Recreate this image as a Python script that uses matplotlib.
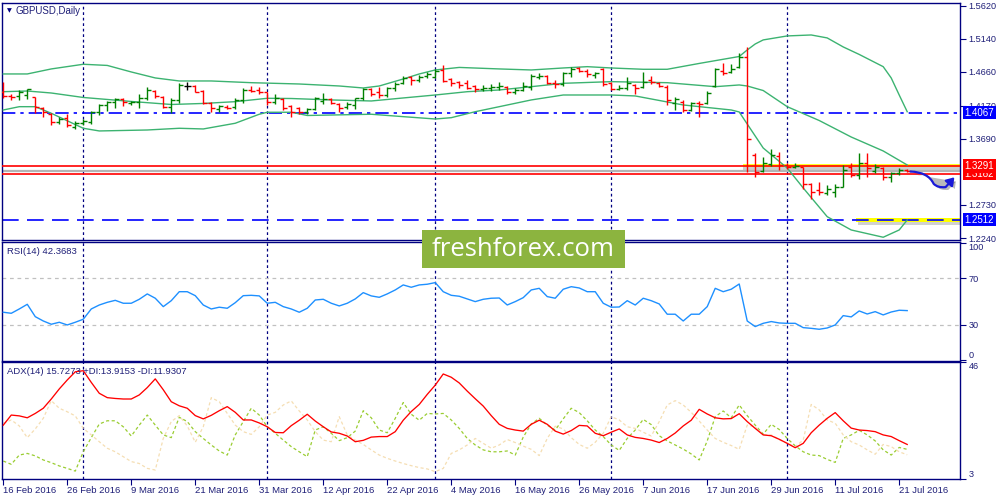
import matplotlib
matplotlib.use("Agg")
import matplotlib.pyplot as plt
from matplotlib.collections import LineCollection
from matplotlib.patches import Rectangle, FancyArrowPatch
from matplotlib.path import Path
from matplotlib.transforms import blended_transform_factory
import matplotlib.patheffects as pe

# ============================================================
# DATA
# ============================================================

DATE_TICKS = [0, 8, 16, 24, 32, 40, 48, 56, 64, 72, 80, 88, 96, 104, 112]
DATE_LABELS = ["16 Feb 2016", "26 Feb 2016", "9 Mar 2016", "21 Mar 2016",
               "31 Mar 2016", "12 Apr 2016", "22 Apr 2016", "4 May 2016",
               "16 May 2016", "26 May 2016", "7 Jun 2016", "17 Jun 2016",
               "29 Jun 2016", "11 Jul 2016", "21 Jul 2016"]
GRID_BARS = [10, 33, 54, 76, 98]

OPEN = [1.4373, 1.4315, 1.4315, 1.4325, 1.4295, 1.4141, 1.4045, 1.3937, 1.3986, 1.3864,
        1.3914, 1.3937, 1.4082, 1.4180, 1.4219, 1.4267, 1.4213, 1.4228, 1.4286, 1.4383,
        1.4300, 1.4155, 1.4253, 1.4456, 1.4460, 1.4383, 1.4213, 1.4117, 1.4155, 1.4146,
        1.4253, 1.4398, 1.4398, 1.4364, 1.4228, 1.4267, 1.4165, 1.4132, 1.4074, 1.4122,
        1.4238, 1.4267, 1.4190, 1.4155, 1.4180, 1.4277, 1.4412, 1.4373, 1.4325, 1.4431,
        1.4495, 1.4591, 1.4543, 1.4606, 1.4591, 1.4689, 1.4554, 1.4510, 1.4495, 1.4460,
        1.4408, 1.4423, 1.4437, 1.4446, 1.4373, 1.4398, 1.4446, 1.4591, 1.4606, 1.4495,
        1.4481, 1.4641, 1.4714, 1.4674, 1.4616, 1.4703, 1.4495, 1.4408, 1.4423, 1.4471,
        1.4437, 1.4543, 1.4504, 1.4446, 1.4204, 1.4228, 1.4107, 1.4213, 1.4204, 1.4456,
        1.4674, 1.4664, 1.4737, 1.4882, 1.3453, 1.3224, 1.3322, 1.3438, 1.3303, 1.3283,
        1.3274, 1.3026, 1.2943, 1.2904, 1.2919, 1.2991, 1.3274, 1.3162, 1.3341, 1.3220,
        1.3259, 1.3137, 1.3195, 1.3234]
HIGH = [1.4510, 1.4340, 1.4398, 1.4417, 1.4300, 1.4155, 1.4059, 1.4010, 1.4045, 1.3947,
        1.3972, 1.4093, 1.4190, 1.4238, 1.4277, 1.4277, 1.4242, 1.4335, 1.4442, 1.4398,
        1.4315, 1.4286, 1.4495, 1.4519, 1.4471, 1.4398, 1.4228, 1.4180, 1.4180, 1.4286,
        1.4423, 1.4460, 1.4442, 1.4373, 1.4335, 1.4277, 1.4180, 1.4155, 1.4141, 1.4300,
        1.4350, 1.4286, 1.4204, 1.4228, 1.4286, 1.4423, 1.4423, 1.4442, 1.4446, 1.4510,
        1.4606, 1.4606, 1.4616, 1.4655, 1.4699, 1.4762, 1.4568, 1.4529, 1.4543, 1.4471,
        1.4471, 1.4481, 1.4519, 1.4460, 1.4423, 1.4519, 1.4626, 1.4641, 1.4616, 1.4543,
        1.4655, 1.4737, 1.4737, 1.4703, 1.4664, 1.4722, 1.4519, 1.4471, 1.4583, 1.4485,
        1.4655, 1.4602, 1.4519, 1.4471, 1.4292, 1.4253, 1.4228, 1.4242, 1.4388, 1.4714,
        1.4795, 1.4776, 1.4940, 1.5028, 1.3477, 1.3419, 1.3540, 1.3492, 1.3333, 1.3341,
        1.3283, 1.3041, 1.3055, 1.3016, 1.3026, 1.3307, 1.3341, 1.3477, 1.3477, 1.3322,
        1.3283, 1.3210, 1.3268, 1.3245]
LOW = [1.4286, 1.4253, 1.4253, 1.4263, 1.4059, 1.4005, 1.3889, 1.3903, 1.3860, 1.3831,
       1.3889, 1.3903, 1.4034, 1.4093, 1.4132, 1.4170, 1.4180, 1.4132, 1.4253, 1.4286,
       1.4132, 1.4059, 1.4204, 1.4398, 1.4364, 1.4190, 1.4074, 1.4074, 1.4117, 1.4122,
       1.4204, 1.4364, 1.4335, 1.4180, 1.4190, 1.4107, 1.4010, 1.4045, 1.4045, 1.4107,
       1.4190, 1.4190, 1.4074, 1.4122, 1.4122, 1.4253, 1.4315, 1.4286, 1.4300, 1.4383,
       1.4481, 1.4471, 1.4519, 1.4568, 1.4577, 1.4519, 1.4460, 1.4431, 1.4408, 1.4364,
       1.4383, 1.4383, 1.4398, 1.4335, 1.4335, 1.4383, 1.4398, 1.4558, 1.4481, 1.4431,
       1.4460, 1.4591, 1.4655, 1.4591, 1.4577, 1.4460, 1.4398, 1.4398, 1.4398, 1.4340,
       1.4423, 1.4485, 1.4437, 1.4180, 1.4107, 1.4082, 1.4093, 1.4010, 1.4194, 1.4437,
       1.4616, 1.4641, 1.4714, 1.3210, 1.3128, 1.3201, 1.3293, 1.3234, 1.3245, 1.3259,
       1.2954, 1.2808, 1.2871, 1.2871, 1.2846, 1.2983, 1.3137, 1.3099, 1.3137, 1.3195,
       1.3089, 1.3064, 1.3162, 1.3205]
CLOSE = [1.4315, 1.4300, 1.4373, 1.4408, 1.4155, 1.4082, 1.3937, 1.3976, 1.3889, 1.3914,
         1.3947, 1.4074, 1.4180, 1.4219, 1.4263, 1.4219, 1.4223, 1.4286, 1.4402, 1.4315,
         1.4155, 1.4253, 1.4471, 1.4456, 1.4373, 1.4204, 1.4132, 1.4165, 1.4132, 1.4253,
         1.4398, 1.4383, 1.4373, 1.4228, 1.4286, 1.4141, 1.4074, 1.4074, 1.4122, 1.4277,
         1.4267, 1.4204, 1.4141, 1.4190, 1.4277, 1.4412, 1.4335, 1.4325, 1.4431, 1.4481,
         1.4577, 1.4543, 1.4591, 1.4626, 1.4674, 1.4529, 1.4495, 1.4471, 1.4431, 1.4408,
         1.4431, 1.4442, 1.4452, 1.4373, 1.4398, 1.4460, 1.4606, 1.4606, 1.4495, 1.4481,
         1.4641, 1.4703, 1.4674, 1.4626, 1.4641, 1.4481, 1.4408, 1.4431, 1.4504, 1.4423,
         1.4519, 1.4519, 1.4456, 1.4253, 1.4263, 1.4107, 1.4204, 1.4194, 1.4350, 1.4699,
         1.4641, 1.4699, 1.4882, 1.3681, 1.3210, 1.3333, 1.3453, 1.3307, 1.3283, 1.3297,
         1.3031, 1.2919, 1.2910, 1.2954, 1.2991, 1.3234, 1.3162, 1.3333, 1.3268, 1.3274,
         1.3128, 1.3186, 1.3234, 1.3220]

# Bollinger bands, read at selected bars
BB_UP_IDX = [0, 3, 6, 10, 13, 16, 19, 22, 26, 31, 37, 42, 45, 47, 50, 52, 54, 57, 62,
             66, 70, 73, 76, 80, 83, 87, 92, 93, 94, 95, 98, 101, 103, 105, 107, 110,
             111, 112, 113]
BB_UP = [1.4631, 1.4631, 1.4704, 1.4772, 1.4755, 1.4660, 1.4573, 1.4529, 1.4529, 1.4504,
         1.4485, 1.4456, 1.4427, 1.4456, 1.4558, 1.4631, 1.4689, 1.4726, 1.4704, 1.4689,
         1.4718, 1.4737, 1.4718, 1.4699, 1.4699, 1.4784, 1.4885, 1.4980, 1.5067, 1.5126,
         1.5184, 1.5198, 1.5155, 1.5024, 1.4915, 1.4737, 1.4573, 1.4325, 1.4082]
BB_MID_IDX = [0, 3, 6, 10, 16, 21, 25, 29, 33, 36, 41, 46, 50, 54, 58, 62, 66, 70, 76,
              83, 89, 92, 93, 95, 98, 102, 106, 110, 113]
BB_MID = [1.4373, 1.4383, 1.4354, 1.4289, 1.4231, 1.4187, 1.4202, 1.4228, 1.4277, 1.4274,
          1.4253, 1.4238, 1.4282, 1.4325, 1.4373, 1.4398, 1.4446, 1.4495, 1.4519, 1.4504,
          1.4446, 1.4471, 1.4456, 1.4390, 1.4155, 1.3954, 1.3714, 1.3511, 1.3307]
BB_LO_IDX = [0, 2, 4, 6, 10, 12, 18, 22, 25, 29, 32, 33, 36, 38, 46, 50, 54, 56, 59, 62,
             66, 70, 76, 79, 85, 91, 92, 93, 95, 98, 100, 103, 106, 110, 112, 113]
BB_LO = [1.4107, 1.4155, 1.4155, 1.4059, 1.3841, 1.3802, 1.3816, 1.3841, 1.3831, 1.3914,
         1.4045, 1.4074, 1.4074, 1.4027, 1.4045, 1.4010, 1.3976, 1.3995, 1.4082, 1.4155,
         1.4253, 1.4325, 1.4325, 1.4311, 1.4180, 1.4107, 1.4078, 1.3903, 1.3554, 1.3263,
         1.2973, 1.2555, 1.2362, 1.2256, 1.2362, 1.2507]

RSI = [40.9, 40.0, 43.7, 47.7, 37.1, 33.4, 30.6, 32.3, 30.0, 32.3,
       34.9, 43.7, 47.1, 49.4, 51.1, 48.6, 48.6, 52.0, 56.6, 52.9,
       45.7, 50.8, 58.5, 58.5, 55.1, 47.1, 43.7, 45.2, 44.3, 49.1,
       55.1, 55.4, 54.9, 48.6, 49.4, 45.7, 43.7, 40.9, 44.3, 51.4,
       52.0, 48.6, 46.3, 48.6, 52.3, 57.7, 54.9, 53.7, 56.6, 60.0,
       64.3, 62.3, 64.3, 64.9, 66.3, 58.5, 55.4, 54.6, 52.3, 50.0,
       52.0, 52.9, 53.1, 47.1, 50.0, 53.4, 60.0, 61.4, 54.3, 52.9,
       60.6, 62.8, 61.7, 58.5, 58.5, 48.6, 45.2, 45.4, 50.8, 47.1,
       52.9, 50.8, 48.0, 39.2, 39.2, 33.4, 39.2, 39.2, 45.7, 61.4,
       58.5, 60.6, 65.1, 33.4, 28.6, 31.4, 32.9, 31.7, 31.4, 31.4,
       27.7, 27.1, 26.3, 27.4, 30.0, 38.0, 36.9, 42.0, 39.4, 41.4,
       38.6, 41.1, 42.6, 42.3]

ADX = [22.8, 26.5, 26.2, 25.5, 27.1, 29.0, 32.4, 36.1, 39.4, 42.4,
       42.8, 38.5, 34.5, 32.9, 32.6, 32.4, 32.4, 33.9, 36.6, 39.8,
       35.8, 31.4, 29.9, 29.0, 26.3, 25.1, 26.4, 28.1, 29.6, 27.5,
       24.7, 24.7, 23.6, 22.2, 20.1, 20.0, 22.6, 24.6, 26.8, 24.3,
       22.2, 20.3, 19.8, 18.8, 16.7, 17.2, 18.4, 18.6, 18.6, 20.4,
       24.6, 27.8, 30.4, 34.1, 37.5, 41.6, 40.4, 38.3, 35.3, 32.5,
       29.8, 26.3, 23.1, 21.6, 21.0, 20.6, 23.1, 24.6, 23.1, 20.6,
       19.5, 20.8, 22.7, 22.5, 19.8, 18.9, 20.2, 21.4, 19.2, 18.3,
       17.9, 17.3, 16.4, 17.9, 19.9, 22.5, 24.6, 28.6, 26.9, 25.5,
       25.1, 25.2, 27.0, 24.1, 21.6, 19.2, 18.9, 17.6, 16.1, 14.5,
       16.1, 20.0, 22.8, 25.3, 27.4, 24.4, 21.7, 21.0, 20.8, 20.4,
       19.2, 18.6, 17.1, 15.7]
PLUS_DI = [9.6, 8.4, 11.8, 12.4, 11.5, 10.0, 9.0, 7.8, 6.9, 5.9,
           13.0, 18.2, 23.2, 24.4, 24.4, 22.2, 18.8, 22.8, 26.5, 22.8,
           19.2, 18.2, 25.7, 24.1, 20.4, 17.9, 15.5, 13.3, 11.8, 19.2,
           24.1, 29.0, 26.5, 22.2, 19.8, 17.3, 14.9, 13.0, 11.2, 21.0,
           22.2, 19.8, 17.1, 18.2, 20.6, 28.1, 25.5, 21.0, 20.0, 25.3,
           31.1, 26.8, 24.6, 27.1, 26.9, 27.1, 24.7, 21.6, 17.9, 15.5,
           13.7, 13.0, 13.0, 13.3, 11.8, 18.4, 23.2, 25.3, 22.8, 21.0,
           25.1, 29.0, 27.4, 24.4, 21.0, 18.6, 15.5, 13.5, 17.9, 21.0,
           24.9, 23.0, 18.9, 17.0, 15.5, 14.0, 12.2, 10.0, 17.0, 25.9,
           28.0, 25.5, 30.2, 26.3, 22.8, 19.5, 23.1, 21.2, 17.9, 15.2,
           13.0, 11.8, 11.6, 10.2, 9.1, 17.9, 19.2, 20.9, 19.2, 17.0,
           13.7, 11.8, 14.6, 13.9]
MINUS_DI = [23.5, 24.7, 22.5, 18.2, 21.4, 25.3, 31.8, 29.0, 27.7, 26.2,
            21.6, 19.2, 16.7, 14.3, 13.0, 11.2, 9.4, 8.7, 6.9, 6.3,
            17.9, 24.1, 26.3, 22.5, 16.5, 22.2, 32.9, 31.4, 27.1, 22.8,
            20.4, 19.4, 22.2, 26.5, 27.5, 30.2, 31.7, 28.0, 24.7, 20.4,
            17.3, 16.7, 25.9, 19.2, 17.3, 15.7, 13.7, 11.8, 10.6, 9.6,
            8.7, 7.9, 7.2, 6.7, 5.7, 6.9, 12.4, 13.7, 15.5, 17.9,
            16.1, 14.3, 15.5, 17.5, 16.4, 15.1, 13.9, 11.6, 17.9, 22.4,
            21.4, 18.2, 15.7, 14.3, 16.5, 19.8, 25.9, 24.7, 22.2, 21.6,
            20.2, 18.8, 24.1, 30.2, 31.8, 30.2, 27.5, 24.3, 21.0, 17.9,
            16.5, 15.3, 13.9, 22.8, 22.2, 19.2, 19.2, 17.5, 16.1, 14.9,
            17.3, 30.4, 28.4, 24.7, 23.5, 19.2, 16.7, 15.5, 13.7, 12.1,
            15.7, 14.9, 13.0, 11.9]

PRICE_TICKS = [1.5620, 1.5140, 1.4660, 1.4170, 1.3690, 1.2730, 1.2240]
LEVEL_HIGH = 1.4067
LEVEL_RES = 1.3291
LEVEL_SUP = 1.3182
LEVEL_BID = 1.3214
LEVEL_LOW = 1.2512

# ============================================================
# STYLE
# ============================================================

plt.rcParams["font.family"] = ["Liberation Sans", "DejaVu Sans"]

NAVY = "#000080"
TEXT = "#1f1f78"
W, H = 1000, 500
XLIM = (-0.16, 119.6)

fig = plt.figure(figsize=(10, 5), dpi=100)
fig.patch.set_facecolor("white")


def px_axes(left, top, right, bottom):
    return fig.add_axes([left / W, 1 - bottom / H,
                         (right - left) / W, (bottom - top) / H])


def style_panel(ax):
    for sp in ax.spines.values():
        sp.set_color(NAVY)
        sp.set_linewidth(1.0)
    ax.set_xlim(*XLIM)
    ax.yaxis.tick_right()
    ax.tick_params(axis="y", direction="out", length=4, width=0.8,
                   color=NAVY, labelsize=6.6, labelcolor=TEXT, pad=2)
    ax.tick_params(axis="x", bottom=False, labelbottom=False)
    for b in GRID_BARS:
        ax.axvline(b, color=NAVY, lw=0.9, ls=(0, (2.2, 2.2)), zorder=1)


ax_p = px_axes(2, 3, 960, 240)
ax_r = px_axes(2, 242, 960, 361)
ax_a = px_axes(2, 362, 960, 479)

for a in (ax_p, ax_r, ax_a):
    style_panel(a)

# ============================================================
# PRICE PANEL
# ============================================================

ax_p.set_ylim(1.2216, 1.5663)
ax_p.set_yticks(PRICE_TICKS)
ax_p.set_yticklabels([f"{v:.4f}" for v in PRICE_TICKS])

n = len(CLOSE)
segs, cols = [], []
for i in range(n):
    if CLOSE[i] > OPEN[i]:
        c = "#008000"
    elif CLOSE[i] < OPEN[i]:
        c = "#ff0000"
    else:
        c = "#000000"
    segs.append([(i, LOW[i]), (i, HIGH[i])])
    segs.append([(i - 0.42, OPEN[i]), (i, OPEN[i])])
    segs.append([(i, CLOSE[i]), (i + 0.42, CLOSE[i])])
    cols += [c, c, c]
ax_p.add_collection(LineCollection(segs, colors=cols, linewidths=1.0, zorder=4))

band_col = "#3cb371"
ax_p.plot(BB_UP_IDX, BB_UP, color=band_col, lw=1.0, zorder=3)
ax_p.plot(BB_MID_IDX, BB_MID, color=band_col, lw=1.0, zorder=3)
ax_p.plot(BB_LO_IDX, BB_LO, color=band_col, lw=1.0, zorder=3)

# highlighter marks
ax_p.add_patch(Rectangle((92.5, LEVEL_RES - 0.0020), XLIM[1] - 92.5, 0.0048,
                         fc="#ffff00", ec="none", alpha=0.85, zorder=2))
ax_p.add_patch(Rectangle((92.5, LEVEL_RES - 0.0068), XLIM[1] - 92.5, 0.0048,
                         fc="#9a9a9a", ec="none", alpha=0.5, zorder=2))
ax_p.add_patch(Rectangle((106.6, LEVEL_LOW - 0.0040), XLIM[1] - 106.6, 0.0065,
                         fc="#ffff00", ec="none", zorder=2))
ax_p.add_patch(Rectangle((106.9, LEVEL_LOW - 0.0075), XLIM[1] - 106.9, 0.0035,
                         fc="#9a9a9a", ec="none", alpha=0.45, zorder=2))

ax_p.axhline(LEVEL_HIGH, color="#0000ff", lw=1.2, ls=(0, (8, 3, 2, 3)), zorder=2.5)
ax_p.axhline(LEVEL_LOW, color="#0000ff", lw=1.2, ls=(0, (10, 5)), zorder=2.5)
ax_p.axhline(LEVEL_BID, color="#b4b4b4", lw=1.6, zorder=2.4)
ax_p.axhline(LEVEL_RES, color="#ff0000", lw=1.2, zorder=2.6)
ax_p.axhline(LEVEL_SUP, color="#ff0000", lw=1.2, zorder=2.6)

# hand-drawn arrow
arrow_path = Path([(113.4, 1.3212), (115.6, 1.3205), (116.3, 1.3035),
                   (116.8, 1.2972), (117.8, 1.2985), (118.9, 1.3128)],
                  [Path.MOVETO, Path.CURVE3, Path.CURVE3,
                   Path.CURVE3, Path.CURVE3, Path.LINETO])
arrow = FancyArrowPatch(path=arrow_path, arrowstyle="-|>,head_length=4.5,head_width=3",
                        color="#1a1ad8", lw=1.6, zorder=6, clip_on=False,
                        path_effects=[pe.SimplePatchShadow(offset=(2, -2),
                                                           shadow_rgbFace="#666666",
                                                           alpha=0.45),
                                      pe.Normal()])
ax_p.add_patch(arrow)

# price tags on the right
tag_tr = blended_transform_factory(ax_p.transAxes, ax_p.transData)
for val, fc, z in [(LEVEL_HIGH, "#0000ff", 7), (LEVEL_SUP, "#ff0000", 7),
                   (LEVEL_RES, "#ff0000", 8), (LEVEL_LOW, "#0000ff", 7)]:
    ax_p.text(1.0045, val, f"{val:.4f}", transform=tag_tr, fontsize=7,
              color="white", ha="left", va="center", clip_on=False, zorder=z,
              bbox=dict(boxstyle="square,pad=0.18", fc=fc, ec="none"))

fig.text(7 / W, 1 - 11 / H, "\u25bc", fontsize=4.5, color=NAVY,
         ha="left", va="center", family="DejaVu Sans")
fig.text(16 / W, 1 - 11 / H, "GBPUSD,Daily", fontsize=7, color=TEXT,
         ha="left", va="center")

# ============================================================
# RSI PANEL
# ============================================================

ax_r.set_ylim(-0.9, 101.1)
ax_r.set_yticks([0, 30, 70, 100])
ax_r.set_yticklabels(["0", "30", "70", "100"])
ax_r.axhline(70, color="#c0c0c0", lw=0.9, ls=(0, (3, 3)), zorder=1)
ax_r.axhline(30, color="#c0c0c0", lw=0.9, ls=(0, (3, 3)), zorder=1)
ax_r.plot(range(len(RSI)), RSI, color="#1e90ff", lw=1.0, zorder=3)
fig.text(7 / W, 1 - 251 / H, "RSI(14) 42.3683", fontsize=6.8, color=TEXT,
         ha="left", va="center")

# ============================================================
# ADX PANEL
# ============================================================

ax_a.set_ylim(3, 46)
ax_a.set_yticks([3, 46])
ax_a.set_yticklabels(["3", "46"])
x = range(len(ADX))
ax_a.plot(x, PLUS_DI, color="#9acd32", lw=0.9, ls=(0, (2.5, 2)), zorder=2)
ax_a.plot(x, MINUS_DI, color="#f5deb3", lw=0.9, ls=(0, (2.5, 2)), zorder=2)
ax_a.plot(x, ADX, color="#ff0000", lw=0.95, zorder=3)
fig.text(7 / W, 1 - 371 / H, "ADX(14) 15.7273 +DI:13.9153 -DI:11.9307",
         fontsize=6.8, color=TEXT, ha="left", va="center")

ax_a.tick_params(axis="x", bottom=True, labelbottom=True, direction="out",
                 length=4, width=0.8, color=NAVY, labelsize=6.8,
                 labelcolor=TEXT, pad=1)
ax_a.set_xticks(DATE_TICKS)
ax_a.set_xticklabels(DATE_LABELS, ha="left")

# edge labels sit inside the panel like the terminal does
for ax, top_val, bot_val in [(ax_r, 100, 0), (ax_a, 46, 3)]:
    for t in ax.yaxis.get_major_ticks():
        v = t.get_loc()
        if v == top_val:
            t.label2.set_va("top")
        elif v == bot_val:
            t.label2.set_va("bottom")

# ============================================================
# WATERMARK
# ============================================================

fig.add_artist(Rectangle((422 / W, 1 - 268 / H), 203 / W, 38 / H,
                         transform=fig.transFigure, fc="#8cb43f", ec="none",
                         zorder=10))
fig.text(523.5 / W, 1 - 249 / H, "freshforex.com", fontsize=18.5,
         family="Open Sans", color="white", ha="center", va="center",
         zorder=11)

fig.savefig("out.png", dpi=100)
